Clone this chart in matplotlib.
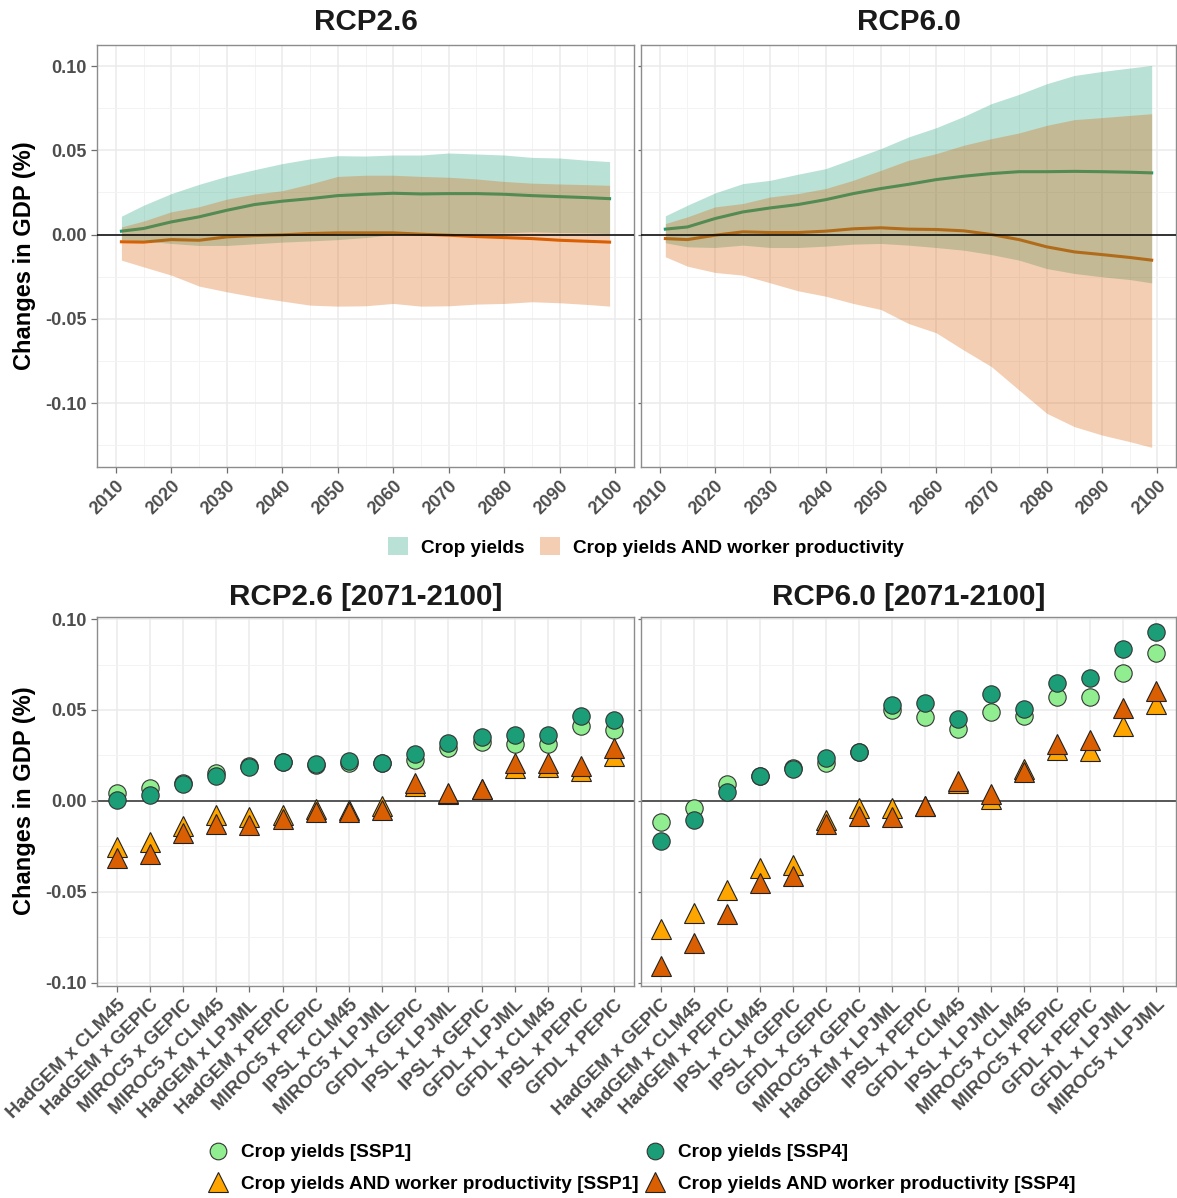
import matplotlib
matplotlib.use("Agg")
import matplotlib.pyplot as plt
from matplotlib.patches import Patch
from matplotlib.lines import Line2D
import numpy as np

plt.rcParams['font.family'] = ['Liberation Sans', 'DejaVu Sans']
plt.rcParams['font.weight'] = 'bold'

# ---------------- time series data ----------------
years = [2011, 2015, 2020, 2025, 2030, 2035, 2040, 2045, 2050, 2055,
         2060, 2065, 2070, 2075, 2080, 2085, 2090, 2095, 2099]

# RCP2.6
cy_mean_26 = [0.0020, 0.0036, 0.0075, 0.0105, 0.0144, 0.0178, 0.0198, 0.0213, 0.0231, 0.0239,
              0.0245, 0.0241, 0.0243, 0.0243, 0.0239, 0.0231, 0.0225, 0.0219, 0.0213]
cy_hi_26 = [0.0109, 0.0174, 0.0243, 0.0298, 0.0346, 0.0385, 0.0421, 0.0449, 0.0468, 0.0466,
            0.0472, 0.0472, 0.0484, 0.0478, 0.0472, 0.0458, 0.0454, 0.0441, 0.0433]
cy_lo_26 = [-0.0030, -0.0038, -0.0053, -0.0065, -0.0065, -0.0055, -0.0045, -0.0038, -0.0030, -0.0018,
            0.0000, 0.0000, 0.0000, 0.0006, 0.0010, 0.0016, 0.0012, 0.0010, 0.0006]
cw_mean_26 = [-0.0043, -0.0045, -0.0030, -0.0034, -0.0014, -0.0006, -0.0002, 0.0006, 0.0010, 0.0010,
              0.0010, 0.0002, -0.0004, -0.0012, -0.0018, -0.0024, -0.0034, -0.0040, -0.0045]
cw_hi_26 = [0.0045, 0.0080, 0.0135, 0.0165, 0.0210, 0.0240, 0.0260, 0.0300, 0.0345, 0.0352,
            0.0352, 0.0345, 0.0340, 0.0330, 0.0315, 0.0305, 0.0300, 0.0296, 0.0292]
cw_lo_26 = [-0.0152, -0.0192, -0.0241, -0.0306, -0.0340, -0.0370, -0.0395, -0.0419, -0.0425, -0.0423,
            -0.0409, -0.0425, -0.0423, -0.0413, -0.0409, -0.0399, -0.0405, -0.0415, -0.0425]

# RCP6.0
cy_mean_60 = [0.0032, 0.0045, 0.0095, 0.0134, 0.0158, 0.0178, 0.0207, 0.0243, 0.0273, 0.0298,
              0.0326, 0.0346, 0.0362, 0.0373, 0.0373, 0.0375, 0.0373, 0.0370, 0.0366]
cy_hi_60 = [0.0111, 0.0174, 0.0247, 0.0302, 0.0322, 0.0358, 0.0391, 0.0450, 0.0510, 0.0579,
            0.0634, 0.0701, 0.0777, 0.0832, 0.0895, 0.0944, 0.0968, 0.0988, 0.1004]
cy_lo_60 = [-0.0049, -0.0073, -0.0077, -0.0063, -0.0077, -0.0077, -0.0069, -0.0057, -0.0053, -0.0063,
            -0.0077, -0.0093, -0.0119, -0.0152, -0.0202, -0.0231, -0.0251, -0.0267, -0.0287]
cw_mean_60 = [-0.0024, -0.0030, -0.0004, 0.0016, 0.0012, 0.0012, 0.0020, 0.0034, 0.0040, 0.0032,
              0.0030, 0.0022, 0.0000, -0.0030, -0.0073, -0.0103, -0.0119, -0.0136, -0.0152]
cw_hi_60 = [0.0065, 0.0105, 0.0164, 0.0184, 0.0223, 0.0243, 0.0273, 0.0322, 0.0381, 0.0441,
            0.0480, 0.0530, 0.0569, 0.0603, 0.0648, 0.0682, 0.0694, 0.0707, 0.0717]
cw_lo_60 = [-0.0132, -0.0188, -0.0225, -0.0241, -0.0287, -0.0334, -0.0366, -0.0409, -0.0445, -0.0528,
            -0.0583, -0.0686, -0.0784, -0.0923, -0.1061, -0.1140, -0.1190, -0.1229, -0.1263]

# ---------------- end-of-century data ----------------
models_26 = ["HadGEM x CLM45", "HadGEM x GEPIC", "MIROC5 x GEPIC", "MIROC5 x CLM45",
             "HadGEM x LPJML", "HadGEM x PEPIC", "MIROC5 x PEPIC", "IPSL x CLM45",
             "MIROC5 x LPJML", "GFDL x GEPIC", "IPSL x LPJML", "IPSL x GEPIC",
             "GFDL x LPJML", "GFDL x CLM45", "IPSL x PEPIC", "GFDL x PEPIC"]
cy_ssp1_26 = [0.0042, 0.0073, 0.0099, 0.0152, 0.0194, 0.0212, 0.0198, 0.0210,
              0.0207, 0.0222, 0.0290, 0.0322, 0.0315, 0.0315, 0.0412, 0.0388]
cy_ssp4_26 = [0.0005, 0.0031, 0.0092, 0.0137, 0.0187, 0.0214, 0.0205, 0.0220,
              0.0210, 0.0256, 0.0319, 0.0352, 0.0363, 0.0363, 0.0467, 0.0445]
cw_ssp1_26 = [-0.0256, -0.0225, -0.0137, -0.0077, -0.0090, -0.0079, -0.0044, -0.0050,
              -0.0031, 0.0084, 0.0035, 0.0066, 0.0180, 0.0185, 0.0163, 0.0247]
cw_ssp4_26 = [-0.0317, -0.0290, -0.0178, -0.0125, -0.0132, -0.0101, -0.0059, -0.0059,
              -0.0050, 0.0097, 0.0044, 0.0066, 0.0209, 0.0209, 0.0190, 0.0291]

models_60 = ["HadGEM x GEPIC", "HadGEM x CLM45", "HadGEM x PEPIC", "IPSL x CLM45",
             "IPSL x GEPIC", "GFDL x GEPIC", "MIROC5 x GEPIC", "HadGEM x LPJML",
             "IPSL x PEPIC", "GFDL x CLM45", "IPSL x LPJML", "MIROC5 x CLM45",
             "MIROC5 x PEPIC", "GFDL x PEPIC", "GFDL x LPJML", "MIROC5 x LPJML"]
cy_ssp1_60 = [-0.0114, -0.0037, 0.0093, 0.0139, 0.0178, 0.0207, 0.0271, 0.0500,
              0.0462, 0.0396, 0.0491, 0.0469, 0.0570, 0.0570, 0.0701, 0.0811]
cy_ssp4_60 = [-0.0223, -0.0108, 0.0049, 0.0139, 0.0174, 0.0233, 0.0271, 0.0529,
              0.0537, 0.0452, 0.0590, 0.0504, 0.0650, 0.0678, 0.0837, 0.0927]
cw_ssp1_60 = [-0.0705, -0.0619, -0.0489, -0.0372, -0.0352, -0.0108, -0.0040, -0.0040,
              -0.0030, 0.0097, 0.0009, 0.0176, 0.0280, 0.0273, 0.0414, 0.0535]
cw_ssp4_60 = [-0.0910, -0.0784, -0.0621, -0.0452, -0.0416, -0.0128, -0.0082, -0.0090,
              -0.0031, 0.0108, 0.0038, 0.0159, 0.0310, 0.0335, 0.0511, 0.0604]

# ---------------- styling ----------------
GREEN = '#1B9E77'
ORANGE = '#D95F02'
LIGHTGREEN = '#90EE90'
LIGHTORANGE = '#FFA500'
TICKC = '#4D4D4D'
GRIDC = '#EBEBEB'
BORDER = '#8C8C8C'

W, H = 1177, 1198
fig = plt.figure(figsize=(W / 100, H / 100), dpi=100)


def ax_at(x0, y0, x1, y1):
    return fig.add_axes([x0 / W, 1 - y1 / H, (x1 - x0) / W, (y1 - y0) / H])


def style(ax):
    for s in ax.spines.values():
        s.set_color(BORDER)
        s.set_linewidth(1.0)
    ax.set_axisbelow(True)
    ax.grid(which='major', color=GRIDC, lw=1.1)
    ax.grid(which='minor', color='#F3F3F3', lw=0.7)
    ax.tick_params(which='major', length=4, width=0.9, color='#6E6E6E',
                   labelcolor=TICKC, labelsize=13)
    ax.tick_params(which='minor', length=0)


top_axes = [ax_at(97, 45, 634, 466.7), ax_at(641, 45, 1176, 466.7)]
bot_axes = [ax_at(97, 616.7, 634, 985.7), ax_at(641, 616.7, 1176, 985.7)]

series = [
    (cy_mean_26, cy_lo_26, cy_hi_26, cw_mean_26, cw_lo_26, cw_hi_26),
    (cy_mean_60, cy_lo_60, cy_hi_60, cw_mean_60, cw_lo_60, cw_hi_60),
]
for i, ax in enumerate(top_axes):
    cym, cyl, cyh, cwm, cwl, cwh = series[i]
    ax.plot(years, cym, color=GREEN, lw=2.2, zorder=2)
    ax.plot(years, cwm, color=ORANGE, lw=2.2, zorder=2)
    ax.fill_between(years, cyl, cyh, color=GREEN, alpha=0.3, lw=0, zorder=3)
    ax.fill_between(years, cwl, cwh, color=ORANGE, alpha=0.3, lw=0, zorder=3)
    ax.axhline(0, color='black', lw=1.1, zorder=4)
    ax.set_xlim(2006.6, 2103.4)
    ax.set_ylim(-0.1378, 0.1125)
    ax.set_xticks(range(2010, 2101, 10))
    ax.set_xticks(range(2015, 2100, 10), minor=True)
    ax.set_yticks([0.10, 0.05, 0.0, -0.05, -0.10])
    ax.set_yticks([0.075, 0.025, -0.025, -0.075, -0.125], minor=True)
    style(ax)
    ax.set_xticklabels([str(y) for y in range(2010, 2101, 10)], rotation=45,
                       ha='right', va='top', rotation_mode='anchor', fontweight='bold')
    if i == 0:
        ax.set_yticklabels(['0.10', '0.05', '0.00', '-0.05', '-0.10'], fontweight='bold')
    else:
        ax.set_yticklabels([])
        ax.tick_params(axis='y', length=2)

bdata = [
    (models_26, cy_ssp1_26, cy_ssp4_26, cw_ssp1_26, cw_ssp4_26),
    (models_60, cy_ssp1_60, cy_ssp4_60, cw_ssp1_60, cw_ssp4_60),
]
for i, ax in enumerate(bot_axes):
    models, c1, c4, w1, w4 = bdata[i]
    x = np.arange(1, len(models) + 1)
    ax.axhline(0, color='#4A4A4A', lw=1.3, zorder=1)
    ax.plot(x, c1, 'o', ms=12.5, mfc=LIGHTGREEN, mec='#333333', mew=0.8, ls='none', zorder=3)
    ax.plot(x, c4, 'o', ms=12.5, mfc=GREEN, mec='#333333', mew=0.8, ls='none', zorder=4)
    ax.plot(x, w1, '^', ms=14.5, mfc=LIGHTORANGE, mec='#222222', mew=0.8, ls='none', zorder=5)
    ax.plot(x, w4, '^', ms=14.5, mfc=ORANGE, mec='#222222', mew=0.8, ls='none', zorder=6)
    ax.set_xlim(0.4, 16.6)
    ax.set_ylim(-0.1017, 0.1013)
    ax.set_xticks(x)
    ax.set_yticks([0.10, 0.05, 0.0, -0.05, -0.10])
    ax.set_yticks([0.075, 0.025, -0.025, -0.075], minor=True)
    style(ax)
    ax.set_xticklabels(models, rotation=45, ha='right', va='top',
                       rotation_mode='anchor', fontweight='bold', fontsize=13.5)
    if i == 0:
        ax.set_yticklabels(['0.10', '0.05', '0.00', '-0.05', '-0.10'], fontweight='bold')
    else:
        ax.set_yticklabels([])
        ax.tick_params(axis='y', length=2)

# titles
TS = 21.3
fig.text(365.5 / W, 1 - 22 / H, 'RCP2.6', ha='center', va='center', fontsize=TS, fontweight='bold', color='#1A1A1A')
fig.text(908.5 / W, 1 - 22 / H, 'RCP6.0', ha='center', va='center', fontsize=TS, fontweight='bold', color='#1A1A1A')
fig.text(365.5 / W, 1 - 597 / H, 'RCP2.6 [2071-2100]', ha='center', va='center', fontsize=TS, fontweight='bold', color='#1A1A1A')
fig.text(908.5 / W, 1 - 597 / H, 'RCP6.0 [2071-2100]', ha='center', va='center', fontsize=TS, fontweight='bold', color='#1A1A1A')

# y labels
fig.text(25 / W, 1 - 256 / H, 'Changes in GDP (%)', rotation=90, ha='center', va='center', fontsize=17, fontweight='bold')
fig.text(25 / W, 1 - 801 / H, 'Changes in GDP (%)', rotation=90, ha='center', va='center', fontsize=17, fontweight='bold')

# top legend
h_top = [Patch(facecolor=GREEN, alpha=0.3, edgecolor='none', label='Crop yields'),
         Patch(facecolor=ORANGE, alpha=0.3, edgecolor='none', label='Crop yields AND worker productivity')]
fig.legend(handles=h_top, loc='center', bbox_to_anchor=(646 / W, 1 - 547 / H), ncol=2,
           frameon=False, handlelength=1.05, handleheight=1.1,
           handletextpad=0.7, columnspacing=0.8, prop={'weight': 'bold', 'size': 13.7})

# bottom legend
h_bot = [Line2D([], [], marker='o', ls='none', ms=12, mfc=LIGHTGREEN, mec='#333333', mew=0.8, label='Crop yields [SSP1]'),
         Line2D([], [], marker='^', ls='none', ms=14, mfc=LIGHTORANGE, mec='#222222', mew=0.8, label='Crop yields AND worker productivity [SSP1]'),
         Line2D([], [], marker='o', ls='none', ms=12, mfc=GREEN, mec='#333333', mew=0.8, label='Crop yields [SSP4]'),
         Line2D([], [], marker='^', ls='none', ms=14, mfc=ORANGE, mec='#222222', mew=0.8, label='Crop yields AND worker productivity [SSP4]')]
fig.legend(handles=h_bot, loc='center', bbox_to_anchor=(641 / W, 1 - 1168.5 / H), ncol=2,
           frameon=False, handlelength=1.2, handletextpad=0.6, columnspacing=0.3,
           labelspacing=0.75, prop={'weight': 'bold', 'size': 13.7})

fig.savefig('out.png', dpi=100)
